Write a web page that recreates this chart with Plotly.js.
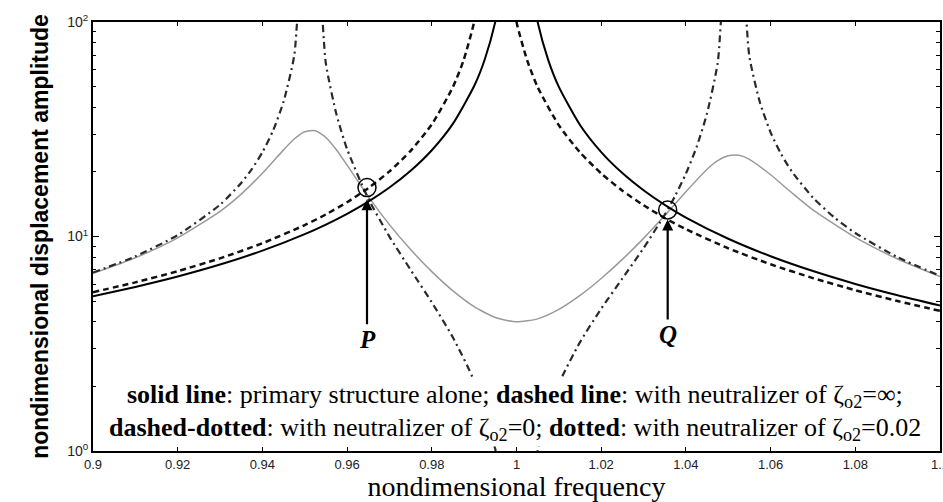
<!DOCTYPE html>
<html>
<head>
<meta charset="utf-8">
<script src="https://cdn.plot.ly/plotly-3.0.1.min.js"></script>
<style>html,body{margin:0;padding:0;background:#fff;}#chart{width:943px;height:502px;}</style>
</head>
<body>
<div id="chart"></div>
<script>
// primary structure alone (solid)
const solidX = [0.90,0.91,0.92,0.93,0.94,0.95,0.955,0.96,0.965,0.97,0.975,0.98,0.985,0.99,0.9925,0.995,0.997,
                1.003,1.005,1.0075,1.01,1.015,1.02,1.025,1.03,1.035,1.04,1.05,1.06,1.07,1.08,1.09,1.10];
const solidY = [5.26,5.82,6.51,7.40,8.59,10.26,11.37,12.76,14.54,16.92,20.25,25.25,33.6,50.3,66.9,100.3,166.9,
                166.4,99.8,66.4,49.8,33.1,24.75,19.75,16.42,14.04,12.25,9.76,8.09,6.90,6.01,5.32,4.76];
// neutralizer zeta = infinity (dashed)
const dashedX = [0.90,0.91,0.92,0.93,0.94,0.95,0.955,0.96,0.965,0.97,0.975,0.98,0.985,0.9875,0.99,0.9925,
                 0.9975,1.0,1.0025,1.005,1.01,1.015,1.02,1.025,1.03,1.035,1.04,1.05,1.06,1.07,1.08,1.09,1.10];
const dashedY = [5.50,6.11,6.89,7.91,9.30,11.30,12.68,14.45,16.82,20.12,25.08,33.34,49.82,66.3,100.0,196,
                 201.8,100,66.4,49.69,33.0,24.67,19.68,16.36,13.98,12.20,10.82,8.81,7.42,6.40,5.62,5.00,4.50];
// neutralizer zeta = 0 (dashed-dotted)
const dashdotX = [0.90,0.91,0.92,0.93,0.935,0.9375,0.94,0.9425,0.945,0.9475,0.95,0.9525,0.955,0.9575,0.96,0.965,0.97,0.975,0.98,0.985,0.99,0.995,0.9975,
                  1.0025,1.005,1.01,1.015,1.02,1.025,1.03,1.035,1.0375,1.04,1.0425,1.045,1.0475,1.05,1.0525,1.055,1.0575,1.06,1.0625,1.065,1.07,1.075,1.08,1.09,1.10];
const dashdotY = [6.79,8.08,10.15,14.07,17.77,20.61,24.70,31.09,42.55,69.3,202.6,196.8,63.7,37.03,25.54,15.01,9.99,6.99,4.93,3.38,2.12,1.018,0.503,
                  0.499,1.0025,2.052,3.219,4.606,6.373,8.826,12.63,15.51,19.63,26.05,37.54,64.25,197.6,201.8,68.73,42.05,30.59,24.19,20.11,15.18,12.29,10.38,8.00,6.56];
// neutralizer zeta = 0.02 (dotted)
const dottedX = [0.90,0.91,0.92,0.93,0.935,0.94,0.945,0.9475,0.95,0.9525,0.955,0.9575,0.96,0.965,0.97,0.975,0.98,0.985,0.99,0.995,1.0,
                 1.005,1.01,1.015,1.02,1.025,1.03,1.035,1.04,1.045,1.0475,1.05,1.0525,1.055,1.06,1.065,1.07,1.08,1.09,1.10];
const dottedY = [6.73,7.96,9.85,13.10,15.77,19.70,25.34,28.47,30.81,31.11,28.94,25.32,21.50,15.39,11.36,8.69,6.86,5.58,4.71,4.19,4.00,
                 4.13,4.57,5.31,6.37,7.82,9.80,12.52,16.17,20.6,22.6,23.8,23.9,22.9,19.4,16.0,13.3,9.9,7.85,6.50];
// fixed points P and Q
const fixedLabels = ['P','Q'];
const fixedX = [0.9647, 1.0357];
const fixedY = [16.9, 13.3];
const arrowTipY = [14.9, 12.0];
const labelOffset = [140, 115];
// axis ticks
const yTickVals = [1, 10, 100];
const yTickText = ['10<sup>0</sup>', '10<sup>1</sup>', '10<sup>2</sup>'];
const yMinorVals = [2,3,4,5,6,7,8,9,20,30,40,50,60,70,80,90];
const xTickVals = [0.9,0.92,0.94,0.96,0.98,1,1.02,1.04,1.06,1.08,1.1];
const xTickText = ['0.9','0.92','0.94','0.96','0.98','1','1.02','1.04','1.06','1.08','1.1'];

const traces = [
  {x: dottedX, y: dottedY, mode:'lines', line:{color:'#9a9a9a', width:1.5, shape:'spline', smoothing:0.6}, hoverinfo:'skip'},
  {x: dashdotX, y: dashdotY, mode:'lines', line:{color:'#2a2a2a', width:2.2, dash:'7px,4px,2px,4px', shape:'spline', smoothing:0.6}, hoverinfo:'skip'},
  {x: dashedX, y: dashedY, mode:'lines', line:{color:'#111', width:2.5, dash:'6px,4px', shape:'spline', smoothing:0.6}, hoverinfo:'skip'},
  {x: solidX, y: solidY, mode:'lines', line:{color:'#000', width:2, shape:'spline', smoothing:0.6}, hoverinfo:'skip'},
  {x: fixedX, y: fixedY, mode:'markers', marker:{symbol:'circle-open', size:18, color:'#000', line:{width:1.5, color:'#000'}}, hoverinfo:'skip'},
  {x: [null], y: [null], yaxis:'y2', mode:'lines', line:{color:'rgba(0,0,0,0)'}, hoverinfo:'skip'}
];

const annotations = fixedLabels.map((t,i) => ({
  x: fixedX[i], y: Math.log10(arrowTipY[i]), xref:'x', yref:'y',
  text: '<b><i>' + t + '</i></b>', showarrow:true, arrowhead:2, arrowsize:1, arrowwidth:2.2, arrowcolor:'#000',
  ax:0, ay: labelOffset[i], font:{family:'Liberation Serif', size:25, color:'#000'}
}));
annotations.push({
  xref:'paper', yref:'paper', x:0.498, y:0.128, showarrow:false, xanchor:'center', yanchor:'middle',
  text:'<b>solid line</b>: primary structure alone; <b>dashed line</b>: with neutralizer of ζ<sub>o2</sub>=∞;',
  font:{family:'Liberation Serif', size:26, color:'#000'}, bgcolor:'#fff', borderpad:1
});
annotations.push({
  xref:'paper', yref:'paper', x:0.498, y:0.052, showarrow:false, xanchor:'center', yanchor:'middle',
  text:'<b>dashed-dotted</b>: with neutralizer of ζ<sub>o2</sub>=0; <b>dotted</b>: with neutralizer of ζ<sub>o2</sub>=0.02',
  font:{family:'Liberation Serif', size:26, color:'#000'}, bgcolor:'#fff', borderpad:1
});

const layout = {
  width:943, height:502,
  margin:{l:93, r:3, t:22, b:51},
  paper_bgcolor:'#fff', plot_bgcolor:'#fff',
  showlegend:false,
  xaxis:{
    range:[0.9,1.1], tickvals:xTickVals, ticktext:xTickText,
    ticks:'inside', ticklen:4, tickwidth:1, tickcolor:'#000',
    showline:true, linewidth:2, linecolor:'#000', mirror:'ticks',
    showgrid:false, zeroline:false, ticklabeloverflow:'allow',
    tickfont:{family:'Liberation Sans Narrow, Liberation Sans', size:13, color:'#222'},
    title:{text:'nondimensional frequency', font:{family:'Liberation Serif', size:28, color:'#000'}, standoff:3}
  },
  yaxis:{
    type:'log', range:[0,2], tickvals:yTickVals, ticktext:yTickText,
    ticks:'inside', ticklen:6, tickwidth:1, tickcolor:'#000',
    minor:{tickmode:'array', tickvals:yMinorVals, ticks:'inside', ticklen:3, tickcolor:'#000', showgrid:false},
    showline:true, linewidth:2, linecolor:'#000', mirror:'ticks',
    showgrid:false, zeroline:false,
    tickfont:{family:'Liberation Sans', size:14, color:'#222'},
    title:{text:'<b>nondimensional displacement amplitude</b>', font:{family:'Liberation Sans', size:23, color:'#000'}, standoff:12}
  },
  yaxis2:{
    type:'log', range:[0,2], overlaying:'y', side:'right', anchor:'x', tickvals:yTickVals, showticklabels:false,
    ticks:'inside', ticklen:6, tickwidth:1, tickcolor:'#000',
    minor:{tickmode:'array', tickvals:yMinorVals, ticks:'inside', ticklen:4, tickcolor:'#000', showgrid:false},
    showline:false, showgrid:false, zeroline:false
  },
  annotations: annotations
};

Plotly.newPlot('chart', traces, layout, {staticPlot:true, displayModeBar:false});
</script>
</body>
</html>
